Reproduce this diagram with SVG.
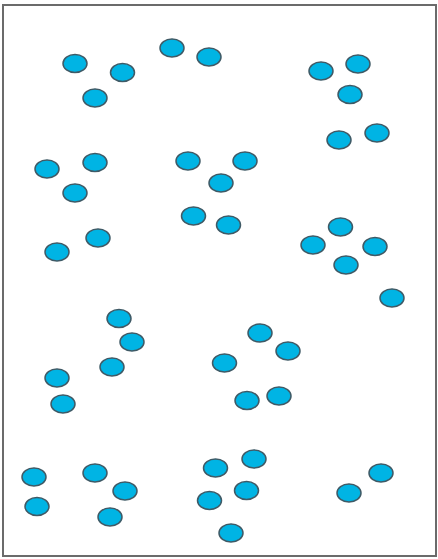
<svg xmlns="http://www.w3.org/2000/svg" width="438" height="559" viewBox="0 0 438 559">
<style>
.n ellipse{fill:#00b4e4;stroke:#3f5a66;stroke-width:1.5}
.frame{fill:#fff;stroke:#6b6b6b;stroke-width:2}
</style>
<rect x="0" y="0" width="438" height="559" fill="#fff"/>
<rect class="frame" x="3" y="5" width="433" height="551"/>
<g id="connectors"></g>
<g id="n1" class="n"><ellipse cx="75" cy="63.5" rx="12" ry="9"/></g>
<g id="n2" class="n"><ellipse cx="122.5" cy="72.5" rx="12" ry="9"/></g>
<g id="n3" class="n"><ellipse cx="95" cy="98" rx="12" ry="9"/></g>
<g id="n4" class="n"><ellipse cx="172" cy="48" rx="12" ry="9"/></g>
<g id="n5" class="n"><ellipse cx="209" cy="57" rx="12" ry="9"/></g>
<g id="n6" class="n"><ellipse cx="321" cy="71" rx="12" ry="9"/></g>
<g id="n7" class="n"><ellipse cx="358" cy="64" rx="12" ry="9"/></g>
<g id="n8" class="n"><ellipse cx="350" cy="94.5" rx="12" ry="9"/></g>
<g id="n9" class="n"><ellipse cx="339" cy="140" rx="12" ry="9"/></g>
<g id="n10" class="n"><ellipse cx="377" cy="133" rx="12" ry="9"/></g>
<g id="n11" class="n"><ellipse cx="47" cy="169" rx="12" ry="9"/></g>
<g id="n12" class="n"><ellipse cx="95" cy="162.5" rx="12" ry="9"/></g>
<g id="n13" class="n"><ellipse cx="75" cy="193" rx="12" ry="9"/></g>
<g id="n14" class="n"><ellipse cx="188" cy="161" rx="12" ry="9"/></g>
<g id="n15" class="n"><ellipse cx="245" cy="161" rx="12" ry="9"/></g>
<g id="n16" class="n"><ellipse cx="221" cy="183" rx="12" ry="9"/></g>
<g id="n17" class="n"><ellipse cx="193.5" cy="216" rx="12" ry="9"/></g>
<g id="n18" class="n"><ellipse cx="228.5" cy="225" rx="12" ry="9"/></g>
<g id="n19" class="n"><ellipse cx="57" cy="252" rx="12" ry="9"/></g>
<g id="n20" class="n"><ellipse cx="98" cy="238" rx="12" ry="9"/></g>
<g id="n21" class="n"><ellipse cx="313" cy="245" rx="12" ry="9"/></g>
<g id="n22" class="n"><ellipse cx="340.5" cy="227" rx="12" ry="9"/></g>
<g id="n23" class="n"><ellipse cx="375" cy="246.5" rx="12" ry="9"/></g>
<g id="n24" class="n"><ellipse cx="346" cy="265" rx="12" ry="9"/></g>
<g id="n25" class="n"><ellipse cx="392" cy="298" rx="12" ry="9"/></g>
<g id="n26" class="n"><ellipse cx="119" cy="318.5" rx="12" ry="9"/></g>
<g id="n27" class="n"><ellipse cx="132" cy="342" rx="12" ry="9"/></g>
<g id="n28" class="n"><ellipse cx="112" cy="367" rx="12" ry="9"/></g>
<g id="n29" class="n"><ellipse cx="57" cy="378" rx="12" ry="9"/></g>
<g id="n30" class="n"><ellipse cx="63" cy="404" rx="12" ry="9"/></g>
<g id="n31" class="n"><ellipse cx="260" cy="333" rx="12" ry="9"/></g>
<g id="n32" class="n"><ellipse cx="288" cy="351" rx="12" ry="9"/></g>
<g id="n33" class="n"><ellipse cx="224.5" cy="363" rx="12" ry="9"/></g>
<g id="n34" class="n"><ellipse cx="247" cy="400.5" rx="12" ry="9"/></g>
<g id="n35" class="n"><ellipse cx="279" cy="396" rx="12" ry="9"/></g>
<g id="n36" class="n"><ellipse cx="34" cy="477" rx="12" ry="9"/></g>
<g id="n37" class="n"><ellipse cx="37" cy="506.5" rx="12" ry="9"/></g>
<g id="n38" class="n"><ellipse cx="95" cy="473" rx="12" ry="9"/></g>
<g id="n39" class="n"><ellipse cx="125" cy="491" rx="12" ry="9"/></g>
<g id="n40" class="n"><ellipse cx="110" cy="517" rx="12" ry="9"/></g>
<g id="n41" class="n"><ellipse cx="215.5" cy="468" rx="12" ry="9"/></g>
<g id="n42" class="n"><ellipse cx="254" cy="459" rx="12" ry="9"/></g>
<g id="n43" class="n"><ellipse cx="246.5" cy="490.5" rx="12" ry="9"/></g>
<g id="n44" class="n"><ellipse cx="209.5" cy="500.5" rx="12" ry="9"/></g>
<g id="n45" class="n"><ellipse cx="231" cy="533" rx="12" ry="9"/></g>
<g id="n46" class="n"><ellipse cx="349" cy="493" rx="12" ry="9"/></g>
<g id="n47" class="n"><ellipse cx="381" cy="473" rx="12" ry="9"/></g>
</svg>
